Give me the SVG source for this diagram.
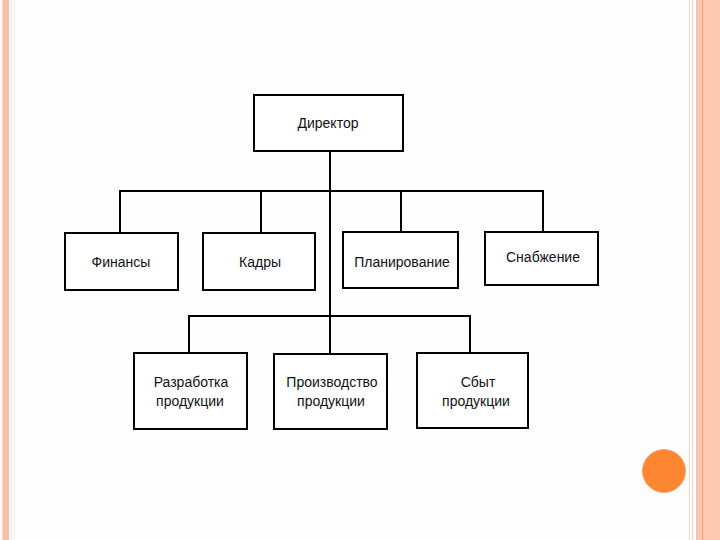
<svg xmlns="http://www.w3.org/2000/svg" width="720" height="540" viewBox="0 0 720 540">
<style>
.box{fill:#fff;stroke:#000;stroke-width:2}
.ln{stroke:#000;stroke-width:2;fill:none}
.t{font-family:"Liberation Sans",Arial,sans-serif;font-size:14px;fill:#111;text-anchor:middle}
</style>
<rect x="0" y="0" width="720" height="540" fill="#fdfdfd"/>
<g id="frame">
<rect x="3" y="0" width="6" height="540" fill="#fbbfa6"/>
<rect x="2" y="0" width="1" height="540" fill="#fbd7c8"/>
<line x1="11.5" y1="0" x2="11.5" y2="540" stroke="#e8e0f0" stroke-width="1"/>
<line x1="14.5" y1="0" x2="14.5" y2="540" stroke="#f8f0d0" stroke-width="1"/>
<line x1="689.5" y1="0" x2="689.5" y2="540" stroke="#f3d2bf" stroke-width="1"/>
<line x1="692.5" y1="0" x2="692.5" y2="540" stroke="#f3d2bf" stroke-width="1"/>
<rect x="697" y="0" width="23" height="540" fill="#fcc8b2"/>
<line x1="702.5" y1="0" x2="702.5" y2="540" stroke="#f0a080" stroke-width="1"/>
<line x1="696.5" y1="0" x2="696.5" y2="540" stroke="#f0c0a8" stroke-width="1"/>
<circle cx="664" cy="471" r="21.5" fill="#fc8632" stroke="#f6a56e" stroke-width="1"/>
</g>
<g id="connectors">
<line class="ln" x1="330" y1="151" x2="330" y2="354"/>
<polyline class="ln" points="120,233 120,191 543,191 543,232"/>
<line class="ln" x1="261" y1="191" x2="261" y2="233"/>
<line class="ln" x1="401" y1="191" x2="401" y2="232"/>
<polyline class="ln" points="189,353 189,316 470,316 470,353"/>
</g>
<g id="director"><rect class="box" x="254" y="95" width="149" height="56"/><text class="t" x="328" y="128">Директор</text></g>
<g id="finance"><rect class="box" x="65" y="233" width="113" height="57"/><text class="t" x="121" y="267">Финансы</text></g>
<g id="hr"><rect class="box" x="203" y="233" width="112" height="57"/><text class="t" x="260" y="267">Кадры</text></g>
<g id="planning"><rect class="box" x="343" y="232" width="115" height="56"/><text class="t" x="402" y="267">Планирование</text></g>
<g id="supply"><rect class="box" x="485" y="232" width="113" height="53"/><text class="t" x="543" y="262">Снабжение</text></g>
<g id="development"><rect class="box" x="134" y="353" width="113" height="76"/><text class="t" x="191" y="387">Разработка</text><text class="t" x="190" y="406">продукции</text></g>
<g id="production"><rect class="box" x="274" y="354" width="113" height="75"/><text class="t" x="332" y="387">Производство</text><text class="t" x="331" y="406">продукции</text></g>
<g id="sales"><rect class="box" x="417" y="353" width="111" height="75"/><text class="t" x="478" y="387">Сбыт</text><text class="t" x="476" y="406">продукции</text></g>
</svg>
